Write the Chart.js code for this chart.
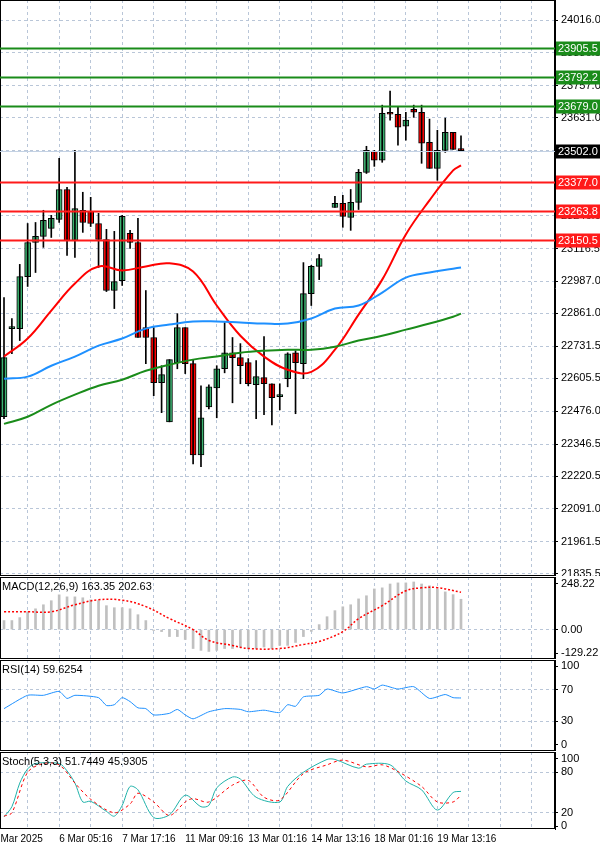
<!DOCTYPE html>
<html>
<head>
<meta charset="utf-8">
<script src="https://cdn.jsdelivr.net/npm/chart.js@4.4.1/dist/chart.umd.min.js"></script>
<style>
  body { margin:0; background:#fff; width:600px; height:849px; overflow:hidden; }
  .pane { position:absolute; left:0; width:600px; }
</style>
</head>
<body>
<div class="pane" style="top:0;height:576px"><canvas id="main"></canvas></div>
<div class="pane" style="top:577px;height:82px"><canvas id="macd"></canvas></div>
<div class="pane" style="top:660px;height:91px"><canvas id="rsi"></canvas></div>
<div class="pane" style="top:752px;height:97px"><canvas id="stoch"></canvas></div>
<script>
// candles, one per slot (slot 41 is the weekend gap)
var candleOpen  = [22454,22801,22801,23006,23140,23164,23196,23231,23349,23148,23267,23263,23215,23152,22951,22990,23176,23140,22805,22766,22588,22434,22667,22805,22663,22304,22493,22568,22643,22706,22687,22667,22580,22608,22584,22533,22604,22706,22663,22939,23046,null,23278,23294,23239,23298,23416,23499,23464,23649,23645,23598,23665,23653,23535,23432,23503,23574,23503];
var candleHigh  = [22923,22841,23054,23215,23219,23267,23247,23472,23357,23503,23338,23318,23255,23192,23184,23247,23188,23235,22951,22805,22655,22679,22860,22805,22679,22576,22580,22655,22825,22766,22742,22683,22675,22770,22584,22584,22706,22714,23061,23050,23093,null,23322,23326,23349,23428,23519,23503,23681,23736,23673,23653,23681,23681,23626,23582,23630,23574,23560];
var candleLow   = [22446,22702,22754,22967,23022,23121,23160,23219,23089,23081,23180,23203,23042,22947,22880,22971,23117,22766,22663,22537,22470,22434,22643,22624,22268,22257,22485,22450,22627,22509,22584,22576,22446,22462,22422,22481,22572,22466,22604,22892,22994,null,23278,23200,23188,23270,23412,23440,23456,23622,23523,23543,23633,23452,23432,23385,23495,23507,23499];
var candleClose = [22687,22801,23006,23140,23164,23227,23235,23349,23148,23274,23219,23215,23152,22951,22986,23243,23140,22766,22766,22588,22620,22679,22805,22663,22304,22450,22572,22643,22706,22687,22655,22584,22612,22584,22529,22533,22702,22667,22939,23046,23077,null,23294,23243,23298,23416,23503,23464,23649,23645,23594,23622,23653,23531,23432,23503,23574,23507,23502];

// moving averages, read every third slot
var maSlots = [0,3,6,9,12,15,18,21,24,27,30,33,36,39,42,45,48,51,54,57,58];
var maRed   = [22691,22762,22872,22979,23046,23030,23046,23058,23026,22892,22773,22691,22639,22631,22718,22856,22994,23172,23306,23424,23444];
var maBlue  = [22604,22612,22655,22691,22734,22762,22801,22817,22829,22829,22825,22821,22821,22841,22880,22892,22943,23002,23022,23037,23042];
var maGreen = [22426,22454,22501,22541,22576,22600,22635,22659,22679,22691,22706,22714,22718,22718,22730,22754,22773,22797,22821,22848,22860];

var priceTicks = [24016,23886.5,23757,23631,23502,23377,23246,23116.5,22987,22861,22731.5,22605.5,22476,22346.5,22220.5,22091,21961.5,21835.5];
var greenLevels = [23905.5,23792.2,23679.0];
var redLevels = [23377.0,23263.8,23150.5];
var lastPrice = 23502.0;

var macdHist = [49,49,65,97,113,135,157,189,178,178,173,162,157,130,119,119,113,81,49,-5,-11,-38,-38,-54,-103,-113,-119,-113,-103,-103,-97,-103,-103,-95,-103,-86,-86,-70,-38,-10,27,70,103,124,135,167,184,221,227,248,254,254,259,248,238,221,205,190,165];
var macdSigSlots = [0,3,6,9,12,15,18,21,24,26,29,31,35,38,40,43,45,48,51,53,55,58];
var macdSignal   = [97,97,97,135,162,160,125,60,0,-59,-86,-103,-103,-81,-65,-11,59,130,211,227,228,203];
var macdTicks = [248.22,0,-129.22];

var rsiSlots = [0,3,5,7,8,9,12,13,14,15,16,17,18,19,21,22,23,24,26,28,30,31,33,35,36,37,38,40,41,43,46,47,48,50,52,54,56,57,58];
var rsiValues = [46,63,63,68,59,63,60,50,51,60,55,47,46,38,40,45,38,33,42,46,45,42,44,41,51,49,61,63,71,66,74,71,76,71,74,59,64,60,59.6];

var stochSlots = [0,1,2,3,4,7,8,9,10,11,13,14,15,16,17,19,21,23,25,26,27,29,30,32,35,36,38,41,42,45,46,49,51,53,55,57,58];
var stochMain  = [14,29,64,85,93,93,82,64,36,37,22,15,31,59,54,13,17,46,29,31,57,73,70,43,36,59,80,99,99,86,92,91,67,54,24,50,51.7];
var stochSigSlots = [0,1,3,5,7,9,11,14,16,17,19,21,23,24,26,29,31,33,35,38,41,43,46,48,50,53,55,57,58];
var stochSignal   = [15,20,80,93,91,64,40,20,33,49,36,16,36,41,36,61,68,43,39,78,91,98,88,91,81,59,36,36,45.9];

var timeSlots  = [-1.5,7,15,23,31,39,47,55];
var timeLabels = ['5 Mar 2025','6 Mar 05:16','7 Mar 17:16','11 Mar 09:16','13 Mar 01:16','14 Mar 13:16','18 Mar 01:16','19 Mar 13:16'];

var FONT = '11px "Liberation Sans", Arial, sans-serif';
var TIMEFONT = '10px "Liberation Sans", Arial, sans-serif';
var GRID = '#b9c6d8';
var XMIN = -0.508, XMAX = 69.93;
var gridSlots = [];
for (var g = 3; g < 70; g += 4) gridSlots.push(g);

function pts(xs, ys) { return xs.map(function(x, i) { return {x: x, y: ys[i]}; }); }

function xScale() {
    return {
        type: 'linear', min: XMIN, max: XMAX, display: true, offset: false,
        afterBuildTicks: function(s) { s.ticks = gridSlots.map(function(v) { return {value: v}; }); },
        afterFit: function(s) { s.height = 0; s.paddingLeft = 0; s.paddingRight = 0; },
        ticks: {display: false},
        grid: {color: GRID, drawTicks: false, tickLength: 0, offset: false},
        border: {display: false, dash: [3,3]}
    };
}
function yScale(min, max, ticks, fmt, gridFn) {
    return {
        position: 'right', min: min, max: max,
        afterBuildTicks: function(s) { s.ticks = ticks.map(function(v) { return {value: v}; }); },
        afterFit: function(s) { s.width = 45; s.paddingTop = 0; s.paddingBottom = 0; },
        ticks: {font: {family: '"Liberation Sans", Arial', size: 11}, color: '#000', padding: 3,
            callback: fmt},
        grid: {color: gridFn || GRID, drawTicks: true, tickLength: 3, tickColor: '#000'},
        border: {display: true, color: '#000', dash: [3,3]}
    };
}

var frame = {
    id: 'frame',
    afterDraw: function(chart) {
        var a = chart.chartArea, ctx = chart.ctx;
        ctx.save();
        ctx.strokeStyle = '#000'; ctx.lineWidth = 1; ctx.setLineDash([]);
        ctx.strokeRect(a.left + 0.5, a.top + 0.5, a.right - a.left - 1, a.bottom - a.top - 1);
        var o = chart.options.plugins.frame || {};
        if (o.title) {
            ctx.fillStyle = '#000'; ctx.font = FONT; ctx.textBaseline = 'top'; ctx.textAlign = 'left';
            ctx.fillText(o.title, 2, a.top + 4);
        }
        if (o.times) {
            var xs = chart.scales.x;
            ctx.fillStyle = '#000'; ctx.font = TIMEFONT; ctx.textBaseline = 'top'; ctx.textAlign = 'left';
            timeSlots.forEach(function(t, i) { ctx.fillText(timeLabels[i], xs.getPixelForValue(t), a.bottom + 5); });
        }
        ctx.restore();
    }
};

var levels = {
    id: 'levels',
    afterDraw: function(chart) {
        var a = chart.chartArea, ctx = chart.ctx, ys = chart.scales.y;
        ctx.save();
        ctx.setLineDash([]);
        function level(v, color, width, boxColor) {
            var y = Math.round(ys.getPixelForValue(v)) + 0.5;
            ctx.strokeStyle = color; ctx.lineWidth = width;
            ctx.beginPath(); ctx.moveTo(a.left, y); ctx.lineTo(a.right, y); ctx.stroke();
            ctx.fillStyle = boxColor;
            ctx.fillRect(a.right + 1, y - 7, 44, 14);
            ctx.fillStyle = '#fff'; ctx.font = FONT; ctx.textAlign = 'left'; ctx.textBaseline = 'middle';
            ctx.fillText(v.toFixed(1), a.right + 3, y + 0.5);
        }
        level(lastPrice, '#c4d2e4', 1, '#000');
        greenLevels.forEach(function(v) { level(v, '#1a8c1a', 2, '#1a8c1a'); });
        redLevels.forEach(function(v) { level(v, '#ff1a1a', 2, '#ff1a1a'); });
        ctx.restore();
    }
};

Chart.defaults.animation = false;
Chart.defaults.responsive = true;
Chart.defaults.maintainAspectRatio = false;
Chart.defaults.plugins.legend.display = false;
Chart.defaults.plugins.tooltip.enabled = false;

function oneDec(v) { return v.toFixed(1); }
function twoDec(v) { return v.toFixed(2); }
function whole(v) { return v; }

// main price pane
var wickData = [], bodyData = [], bodyColors = [];
for (var i = 0; i < candleOpen.length; i++) {
    if (candleOpen[i] === null) continue;
    wickData.push({x: i, y: [candleLow[i], candleHigh[i]]});
    bodyData.push({x: i, y: [Math.min(candleOpen[i], candleClose[i]), Math.max(candleOpen[i], candleClose[i])]});
    bodyColors.push(candleClose[i] >= candleOpen[i] ? '#3cb371' : '#ff0000');
}

new Chart(document.getElementById('main'), {
    data: {
        datasets: [
            {type: 'line', data: pts(maSlots, maGreen), borderColor: '#1a8c1a', borderWidth: 2, pointRadius: 0, tension: 0.4},
            {type: 'line', data: pts(maSlots, maBlue), borderColor: '#1e90ff', borderWidth: 2, pointRadius: 0, tension: 0.4},
            {type: 'line', data: pts(maSlots, maRed), borderColor: '#ff0000', borderWidth: 2, pointRadius: 0, tension: 0.4},
            {type: 'bar', data: wickData, backgroundColor: '#000', barThickness: 1, grouped: false},
            {type: 'bar', data: bodyData, backgroundColor: bodyColors, borderColor: '#000', borderWidth: 1,
                borderSkipped: false, barThickness: 6, minBarLength: 2, grouped: false}
        ]
    },
    options: {
        layout: {padding: 0},
        scales: {
            x: xScale(),
            y: yScale(21827, 24095, priceTicks, oneDec)
        },
        plugins: {frame: {}}
    },
    plugins: [frame, levels]
});

// MACD pane
new Chart(document.getElementById('macd'), {
    data: {
        datasets: [
            {type: 'line', data: pts(macdSigSlots, macdSignal), borderColor: '#ff0000', borderWidth: 1.5, borderDash: [2,2], pointRadius: 0, tension: 0.4},
            {type: 'bar', data: macdHist.map(function(v, i) { return {x: i, y: v}; }), backgroundColor: '#c0c0c0', barThickness: 2}
        ]
    },
    options: {
        scales: {
            x: xScale(),
            y: yScale(-160, 286, macdTicks, twoDec, function(c) { return c.tick && c.tick.value === 0 ? GRID : 'rgba(0,0,0,0)'; })
        },
        plugins: {frame: {title: 'MACD(12,26,9) 163.35 202.63'}}
    },
    plugins: [frame]
});

// RSI pane
new Chart(document.getElementById('rsi'), {
    data: {
        datasets: [
            {type: 'line', data: pts(rsiSlots, rsiValues), borderColor: '#1e90ff', borderWidth: 1, pointRadius: 0, tension: 0.2}
        ]
    },
    options: {
        scales: {
            x: xScale(),
            y: yScale(-8, 108, [100,70,30,0], whole, function(c) { return c.tick && (c.tick.value === 70 || c.tick.value === 30) ? GRID : 'rgba(0,0,0,0)'; })
        },
        plugins: {frame: {title: 'RSI(14) 59.6254'}}
    },
    plugins: [frame]
});

// Stochastic pane
new Chart(document.getElementById('stoch'), {
    data: {
        datasets: [
            {type: 'line', data: pts(stochSigSlots, stochSignal), borderColor: '#ff0000', borderWidth: 1, borderDash: [3,3], pointRadius: 0, tension: 0.3},
            {type: 'line', data: pts(stochSlots, stochMain), borderColor: '#20b2aa', borderWidth: 1, pointRadius: 0, tension: 0.3}
        ]
    },
    options: {
        layout: {padding: {bottom: 20}},
        scales: {
            x: xScale(),
            y: yScale(-4, 110, [100,80,20,0], whole, function(c) { return c.tick && (c.tick.value === 80 || c.tick.value === 20) ? GRID : 'rgba(0,0,0,0)'; })
        },
        plugins: {frame: {title: 'Stoch(5,3,3) 51.7449 45.9305', times: true}}
    },
    plugins: [frame]
});
</script>
</body>
</html>
